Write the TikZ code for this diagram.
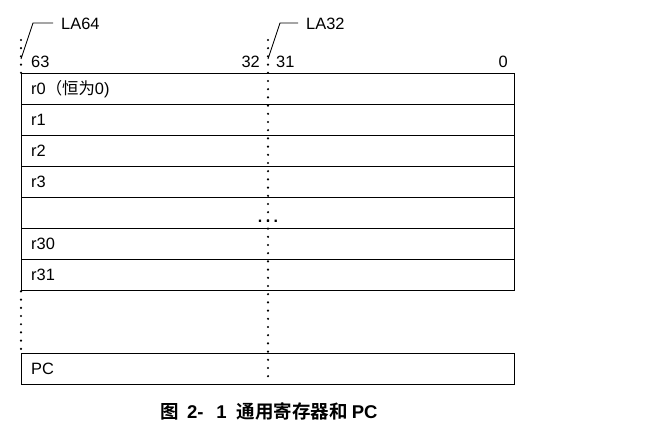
\documentclass[tikz,border=0pt]{standalone}
\usepackage{fontspec}
\setmainfont{Liberation Sans}
\newfontfamily\cjk{Noto Sans CJK SC}[BoldFont={Noto Sans CJK SC Bold}]
\begin{document}
\begin{tikzpicture}[x=1pt,y=-1pt,
  reg/.style={draw,line width=1.4pt,minimum width=493pt,minimum height=31pt,inner sep=0pt,anchor=north west},
  rlabel/.style={anchor=west,font=\fontsize{16.4}{18}\selectfont,inner sep=0pt},
  bitnum/.style={font=\fontsize{16.4}{18}\selectfont,inner sep=0pt},
  dots/.style={line width=2.4pt,line cap=round,dash pattern=on 0pt off 8.2pt},
  lead/.style={line width=0.9pt}]
\useasboundingbox (0,0) rectangle (651,433);
% rows
\node[reg] (r0) at (21,73) {};
\node[reg] (r1) at (21,104) {};
\node[reg] (r2) at (21,135) {};
\node[reg] (r3) at (21,166) {};
\node[reg] (rx) at (21,197) {};
\node[reg] (r30) at (21,228) {};
\node[reg] (r31) at (21,259) {};
\node[reg] (pc) at (21,353) {};
% labels
\node[rlabel] (t0) at ([xshift=10pt]r0.west) {r0{\cjk （恒为}0)};
\node[rlabel] (t1) at ([xshift=10pt]r1.west) {r1};
\node[rlabel] (t2) at ([xshift=10pt]r2.west) {r2};
\node[rlabel] (t3) at ([xshift=10pt]r3.west) {r3};
\node[rlabel] (t30) at ([xshift=10pt]r30.west) {r30};
\node[rlabel] (t31) at ([xshift=10pt]r31.west) {r31};
\node[rlabel] (tpc) at ([xshift=10pt]pc.west) {PC};
% coordinates for dotted lines
\coordinate (ltop) at (21,40);
\coordinate (mtop) at (268,40);
\coordinate (mbot) at (268,384);
\draw[dots] (ltop) -- (r0.north west);
\draw[dots] (r31.south west) -- (pc.north west);
\draw[dots] (mtop) -- (mbot);
% horizontal dots in the elided row
\node[inner sep=0pt,font=\fontsize{16}{18}\selectfont\bfseries] (ell) at (268,221) {.\hspace{3.5pt}.\hspace{3.5pt}.};
% bit numbers
\node[bitnum,anchor=west] (b63) at (31,62) {63};
\node[bitnum,anchor=east] (b32) at (260,62) {32};
\node[bitnum,anchor=west] (b31) at (276,62) {31};
\node[bitnum,anchor=east] (b0) at (508,62) {0};
% leaders
\coordinate (l64a) at (21,59);
\coordinate (l64b) at (33,23);
\coordinate (l64c) at (53,23);
\coordinate (l32a) at (268,59);
\coordinate (l32b) at (280,23);
\coordinate (l32c) at (298,23);
\draw[lead] (l64a) -- (l64b) -- (l64c);
\draw[lead] (l32a) -- (l32b) -- (l32c);
\node[bitnum,anchor=west] (la64) at (61,24) {LA64};
\node[bitnum,anchor=west] (la32) at (306,24) {LA32};
% caption
\node[inner sep=0pt,font=\fontsize{18.5}{20}\selectfont\bfseries] (cap) at (269,411)
  {{\cjk 图}\hspace{8pt}2-\hspace{13pt}1\hspace{10pt}{\cjk 通用寄存器和}\hspace{4pt}PC};
\end{tikzpicture}
\end{document}
